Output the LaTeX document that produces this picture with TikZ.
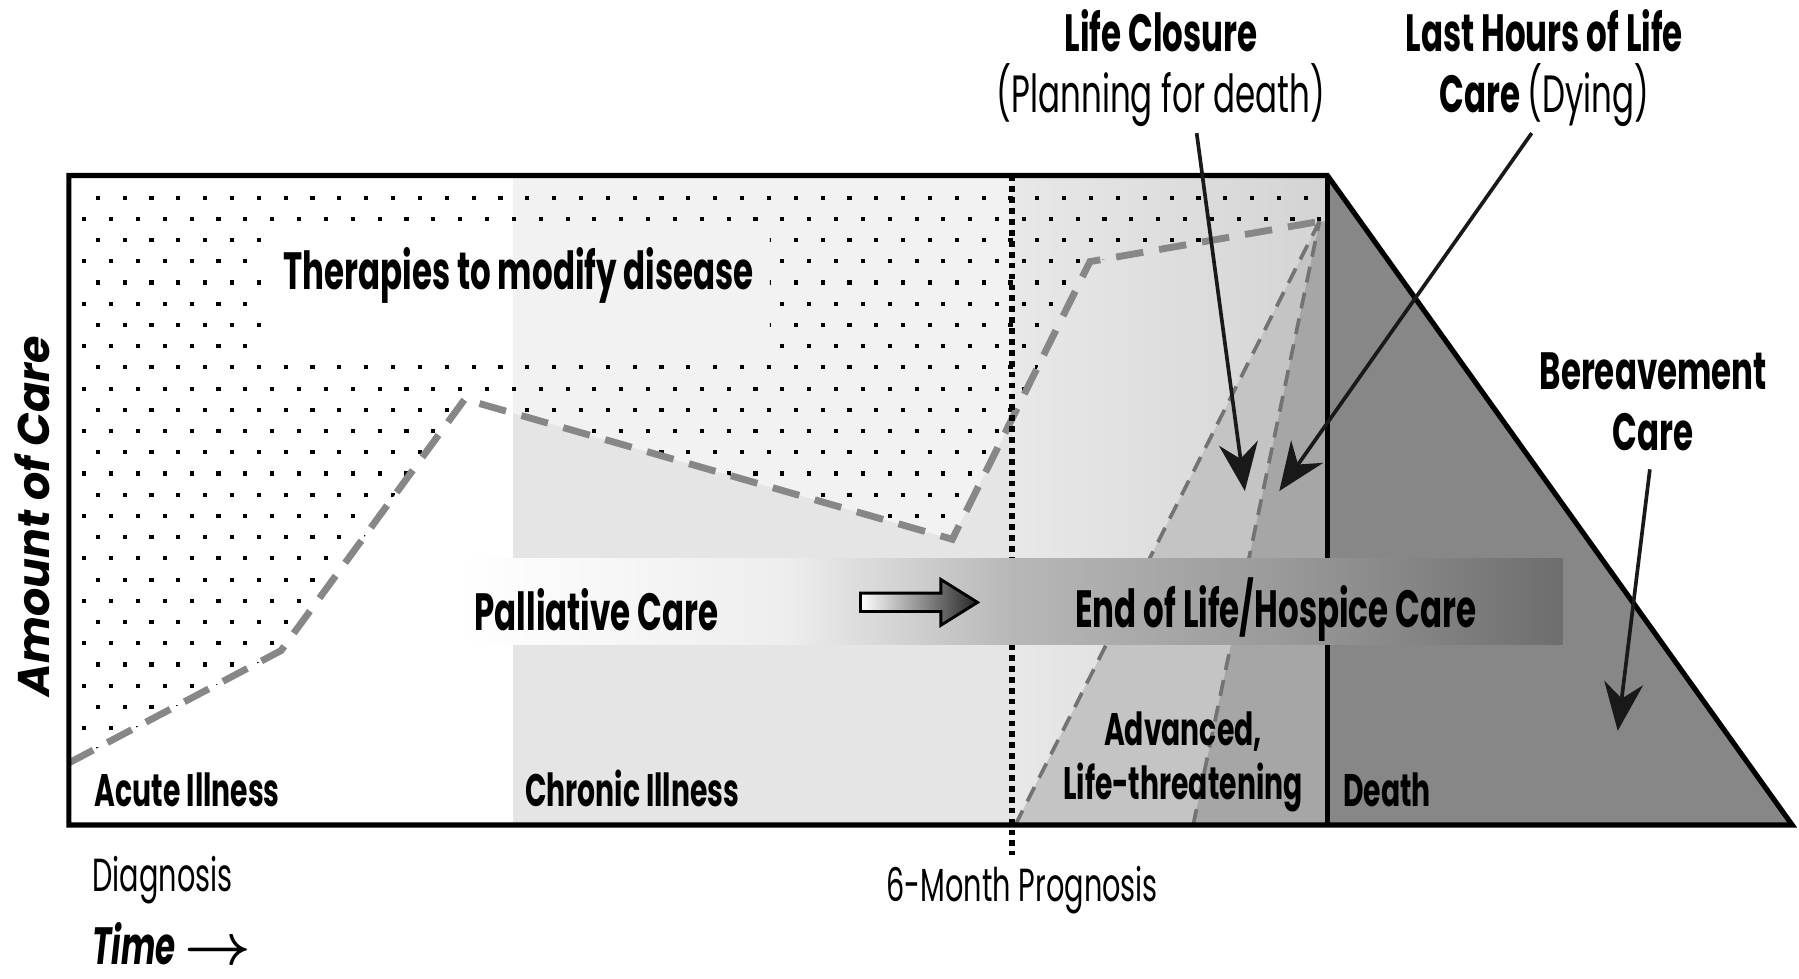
\documentclass[tikz,border=0pt]{standalone}
\usepackage{fontspec}
\setmainfont{Poppins}
\newfontfamily\condfont{Poppins}[FakeStretch=0.62]
\usepackage{tikz}
\usetikzlibrary{arrows.meta,positioning}

\pgfdeclarehorizontalshading{bandshade}{100bp}{color(0bp)=(white); color(25bp)=(white); color(40bp)=(black!7); color(50bp)=(black!28); color(62.5bp)=(black!40); color(75bp)=(black!57); color(100bp)=(black!57)}

\begin{document}
\begin{tikzpicture}[
  frame/.style={draw=black, line width=0.45mm, line join=miter},
  curvedash/.style={draw=black!47, line width=0.6mm, dash pattern=on 2.4mm off 1.4mm},
  wedgedash/.style={draw=black!55, line width=0.32mm, dash pattern=on 1.4mm off 0.9mm},
  callout/.style={draw=black!90, line width=0.32mm, -{Stealth[length=4.2mm,width=3.4mm]}},
  biglab/.style={font=\condfont\bfseries\fontsize{13}{15.2}\selectfont, align=center, inner sep=0pt},
  lab/.style={font=\condfont\bfseries\fontsize{11.3}{13.4}\selectfont, align=center, inner sep=0pt},
  thinlab/.style={font=\condfont\fontsize{11.5}{13}\selectfont, inner sep=0pt}
]
\useasboundingbox (0,0) rectangle (15.68,8.53);

% frame corners and the care curve
\coordinate (bl) at (0.60,1.34);
\coordinate (tl) at (0.60,7.00);
\coordinate (tr) at (11.57,7.00);
\coordinate (br) at (11.57,1.34);
\coordinate (tip) at (15.62,1.34);
\coordinate (d0) at (0.60,1.88);
\coordinate (d1) at (2.45,2.86);
\coordinate (d2) at (4.05,5.05);
\coordinate (d3) at (8.30,3.83);
\coordinate (d4) at (9.50,6.25);
\coordinate (apex) at (11.50,6.60);
\coordinate (aBot) at (8.85,1.34);
\coordinate (bBot) at (10.40,1.34);
\coordinate (progTop) at (8.82,7.00);
\coordinate (prog) at (8.82,1.08);

% zones
\fill[black!10] (4.47,1.34) rectangle (8.82,7.00);
\begin{scope}
  \clip (4.47,1.34) rectangle (8.82,7.00);
  \fill[black!5] (tl) -- (d0) -- (d1) -- (d2) -- (d3) -- (d4) -- (apex) -- (11.57,6.60) -- (tr) -- cycle;
\end{scope}
\shade[left color=black!9, right color=black!17] (8.82,1.34) rectangle (11.57,7.00);
\fill[black!23] (aBot) -- (apex) -- (bBot) -- cycle;
\fill[black!35] (apex) -- (bBot) -- (br) -- (11.57,6.60) -- cycle;
\fill[black!47] (tr) -- (tip) -- (br) -- cycle;

% dot screen above the curve
\begin{scope}[even odd rule]
  \clip (tl) -- (d0) -- (d1) -- (d2) -- (d3) -- (d4) -- (apex) -- (11.57,6.60) -- (tr) -- cycle
    (2.28,5.39) rectangle (6.71,6.51);
  \foreach \r in {0,...,31} {
    \foreach \c in {0,...,47} {
      \fill ({0.717+0.117*(1-mod(\r,2))+0.234*\c},{6.79-0.185*\r}) rectangle +(0.036,0.036);
    }
  }
\end{scope}

% dashed lines
\draw[wedgedash] (aBot) -- (apex);
\draw[wedgedash] (bBot) -- (apex);
\draw[curvedash] (d0) -- (d1) -- (d2) -- (d3) -- (d4) -- (apex);

\draw[black, line width=0.5mm, dash pattern=on 0.5mm off 0.45mm] (progTop) -- (prog);
\draw[frame] (bl) -- (tl) -- (tr) -- (tip) -- cycle;
\draw[frame] (tr) -- (br);

% care band
\shade[shading=bandshade] (4.00,2.91) rectangle (13.62,3.66);
\shadedraw[left color=white, right color=black!85, draw=black, line width=0.25mm]
  (7.50,3.20) -- (8.20,3.20) -- (8.20,3.08) -- (8.52,3.28) -- (8.20,3.48) -- (8.20,3.36) -- (7.50,3.36) -- cycle;

% labels
\node[biglab] (ther) at (4.52,6.13) {Therapies to modify disease};
\node[biglab] (pal) at (5.20,3.22) {Palliative Care};
\node[biglab] (eol) at (11.12,3.22) {End of Life/Hospice Care};
\node[lab, anchor=base west] (acute) at (0.82,1.50) {Acute Illness};
\node[lab, anchor=base west] (chronic) at (4.57,1.50) {Chronic Illness};
\node[lab, anchor=base] (adv) at (10.31,1.56) {Advanced,\\Life-threatening};
\node[lab, anchor=base west] (death) at (11.70,1.50) {Death};
\node[biglab, anchor=base] (bereave) at (14.41,4.60) {Bereavement\\Care};
\node[biglab, anchor=base] (lc) at (10.12,7.55) {Life Closure\\{\mdseries (Planning for death)}};
\node[biglab, anchor=base] (lh) at (13.46,7.55) {Last Hours of Life\\Care {\mdseries (Dying)}};
\node[thinlab, anchor=base west] (diag) at (0.80,0.76) {Diagnosis};
\node[thinlab, anchor=base] (proglab) at (8.91,0.67) {6-Month Prognosis};
\node[font=\condfont\bfseries\itshape\fontsize{13}{13}\selectfont, anchor=base west, inner sep=0pt] (time) at (0.80,0.12)
  {Time\,{\fontsize{14}{14}\selectfont\boldmath$\rightarrow$}};
\node[rotate=90, font=\bfseries\itshape\fontsize{11}{13}\selectfont, inner sep=0pt] (amount) at (0.28,4.03) {Amount of Care};

% callouts
\coordinate (lcTip) at (10.85,4.25);
\coordinate (lhTip) at (11.15,4.25);
\coordinate (bcTip) at (14.10,2.16);
\draw[callout] ([xshift=3.1mm,yshift=-0.5mm]lc.south) -- (lcTip);
\draw[callout] ([xshift=-1.1mm,yshift=-0.5mm]lh.south) -- (lhTip);
\draw[callout] ([xshift=-0.3mm,yshift=-1.5mm]bereave.south) -- (bcTip);
\end{tikzpicture}
\end{document}
